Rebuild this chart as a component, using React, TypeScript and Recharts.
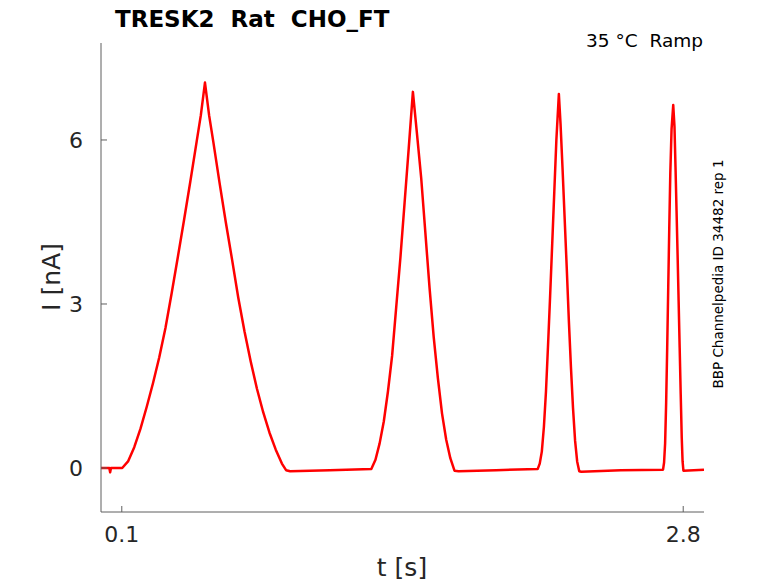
import React from "react";
import { LineChart, Line, XAxis, YAxis } from "recharts";

// time [s] and current [nA]
const timeS = [
  0, 0.04, 0.044, 0.048, 0.102,
  0.13, 0.16, 0.19, 0.22, 0.25, 0.28, 0.31, 0.34, 0.37, 0.4, 0.43, 0.46, 0.48, 0.5,
  0.52, 0.54, 0.57, 0.6, 0.63, 0.66, 0.69, 0.72, 0.75, 0.78, 0.81, 0.84, 0.87, 0.89, 0.91,
  1.1, 1.3,
  1.32, 1.34, 1.36, 1.38, 1.4, 1.42, 1.44, 1.46, 1.48, 1.5,
  1.52, 1.54, 1.56, 1.58, 1.6, 1.62, 1.64, 1.66, 1.68, 1.7, 1.72,
  1.9, 2.1,
  2.11, 2.12, 2.13, 2.14, 2.15, 2.16, 2.17, 2.18, 2.19, 2.202,
  2.21, 2.22, 2.23, 2.24, 2.25, 2.26, 2.27, 2.28, 2.29, 2.3, 2.31,
  2.5, 2.703,
  2.708, 2.713, 2.718, 2.723, 2.728, 2.733, 2.738, 2.744, 2.752,
  2.758, 2.763, 2.768, 2.773, 2.778, 2.783, 2.788, 2.793, 2.797, 2.801,
  2.9,
];
const currentNA = [
  0, 0, -0.08, 0, 0,
  0.12, 0.38, 0.72, 1.12, 1.55, 2.02, 2.56, 3.2, 3.87, 4.55, 5.25, 5.97, 6.45, 7.05,
  6.45, 5.97, 5.22, 4.5, 3.82, 3.12, 2.5, 1.95, 1.45, 1.02, 0.65, 0.34, 0.08, -0.04, -0.06,
  -0.04, -0.02,
  0.15, 0.45, 0.85, 1.4, 2.05, 2.95, 3.85, 4.85, 5.85, 6.88,
  6.1, 5.3, 4.3, 3.3, 2.4, 1.65, 1.0, 0.52, 0.18, -0.05, -0.06,
  -0.04, -0.02,
  0.08, 0.3, 0.75, 1.4, 2.25, 3.15, 4.1, 5.05, 6.0, 6.84,
  6.3, 5.45, 4.55, 3.65, 2.7, 1.85, 1.1, 0.5, 0.12, -0.06, -0.07,
  -0.04, -0.03,
  0.1, 0.45, 1.2, 2.2, 3.3, 4.4, 5.4, 6.2, 6.64,
  6.25, 5.5, 4.7, 3.9, 3.05, 2.2, 1.35, 0.55, 0.12, -0.05,
  -0.03,
];
const xTicks = [0.1, 2.8];
const yTicks = [0, 3, 6];

const data = timeS.map((t, i) => ({ t, i: currentNA[i] }));

const FONT = "'DejaVu Sans', sans-serif";
const AXIS = "#5f5f5f";
const TEXT = "#262626";
const SP = "\u00a0";

const XTick = (props: any) => {
  const { x, y, payload } = props;
  return (
    <g>
      <line x1={x} y1={y} x2={x} y2={y - 6} stroke={AXIS} strokeWidth={1} />
      <text x={x} y={y + 30} textAnchor="middle" fontSize={22} fill={TEXT} fontFamily={FONT}>
        {payload.value}
      </text>
    </g>
  );
};

const YTick = (props: any) => {
  const { x, y, payload } = props;
  return (
    <g>
      <line x1={x} y1={y} x2={x + 6} y2={y} stroke={AXIS} strokeWidth={1} />
      <text x={x - 18} y={y + 8} textAnchor="end" fontSize={22} fill={TEXT} fontFamily={FONT}>
        {payload.value}
      </text>
    </g>
  );
};

export default function App() {
  return (
    <div style={{ position: "absolute", left: 0, top: 0, width: 778, height: 583, background: "#fff" }}>
      <LineChart width={778} height={583} data={data} margin={{ top: 43, right: 74, left: 0, bottom: 0 }}>
        <XAxis
          dataKey="t"
          type="number"
          domain={[0, 2.9]}
          ticks={xTicks}
          height={71}
          stroke={AXIS}
          tickLine={false}
          tickSize={0}
          tickMargin={0}
          tick={<XTick />}
          allowDataOverflow
        />
        <YAxis
          type="number"
          domain={[-0.805, 7.774]}
          ticks={yTicks}
          width={101}
          stroke={AXIS}
          tickLine={false}
          tickSize={0}
          tickMargin={0}
          tick={<YTick />}
          allowDataOverflow
        />
        <Line
          type="linear"
          dataKey="i"
          stroke="#ff0000"
          strokeWidth={2.5}
          strokeLinejoin="round"
          dot={false}
          isAnimationActive={false}
        />
      </LineChart>
      <svg
        width={778}
        height={583}
        style={{ position: "absolute", left: 0, top: 0, pointerEvents: "none" }}
        fontFamily={FONT}
      >
        <text x={115} y={27} fontSize={23} fontWeight="bold" fill="#000">
          {`TRESK2 ${SP}Rat ${SP}CHO_FT`}
        </text>
        <text x={703} y={47} fontSize={18.5} textAnchor="end" fill="#000">
          {`35 °C ${SP}Ramp`}
        </text>
        <text
          x={723}
          y={274}
          fontSize={13.5}
          textAnchor="middle"
          fill="#000"
          transform="rotate(-90 723 274)"
        >
          BBP Channelpedia ID 34482 rep 1
        </text>
        <text
          x={60}
          y={277}
          fontSize={25}
          textAnchor="middle"
          fill={TEXT}
          transform="rotate(-90 60 277)"
        >
          I [nA]
        </text>
        <text x={402} y={576} fontSize={25} textAnchor="middle" fill={TEXT}>
          t [s]
        </text>
      </svg>
    </div>
  );
}
